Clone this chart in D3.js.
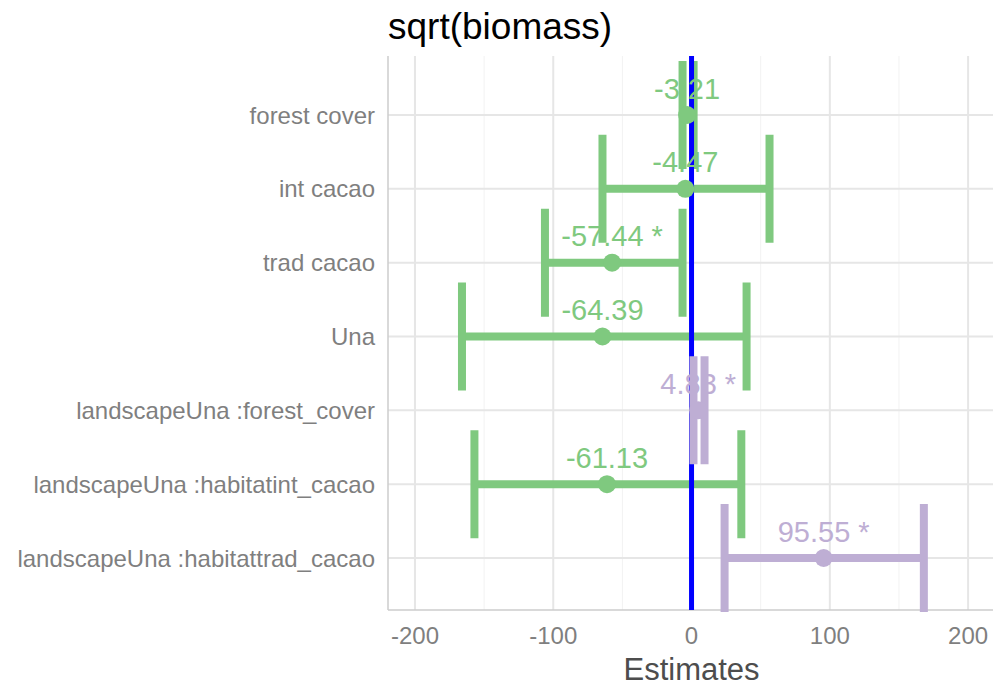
<!DOCTYPE html>
<html>
<head>
<meta charset="utf-8">
<script src="https://cdn.jsdelivr.net/npm/d3@7"></script>
<style>
  body { margin: 0; background: #fff; }
  text { font-family: "Liberation Sans", Arial, sans-serif; }
</style>
</head>
<body>
<script>
// terms from top to bottom
const terms = ["forest cover", "int cacao", "trad cacao", "Una",
  "landscapeUna :forest_cover", "landscapeUna :habitatint_cacao", "landscapeUna :habitattrad_cacao"];
const estimates = [-3.21, -4.47, -57.44, -64.39, 4.83, -61.13, 95.55];
const ciLow = [-6.5, -64.4, -106, -166, 1.4, -157, 23.9];
const ciHigh = [1.5, 56.4, -6.5, 39.8, 9.4, 36, 168];
const labels = ["-3.21", "-4.47", "-57.44 *", "-64.39", "4.83 *", "-61.13", "95.55 *"];
const positive = [false, false, false, false, true, false, true];
const xTicks = [-200, -100, 0, 100, 200];
const xMinor = [-150, -50, 50, 150];

const width = 993, height = 686;
const pLeft = 388, pRight = 993, pTop = 56, pBottom = 610;
const green = "#7fc97f", purple = "#beaed4";

const svg = d3.select("body").append("svg")
  .attr("width", width).attr("height", height);

const x = d3.scaleLinear().domain([-219.5, 218]).range([pLeft, pRight]);
const y = d3.scalePoint().domain(terms).range([115, 558]);

const data = terms.map((t, i) => ({
  term: t, est: estimates[i], lo: ciLow[i], hi: ciHigh[i], lab: labels[i],
  col: positive[i] ? purple : green
}));

// grid
svg.append("g").selectAll("line").data(xMinor).enter().append("line")
  .attr("x1", d => x(d)).attr("x2", d => x(d))
  .attr("y1", pTop).attr("y2", pBottom)
  .attr("stroke", "#f2f2f2").attr("stroke-width", 1);
svg.append("g").selectAll("line").data(xTicks).enter().append("line")
  .attr("x1", d => x(d)).attr("x2", d => x(d))
  .attr("y1", pTop).attr("y2", pBottom)
  .attr("stroke", "#e6e6e6").attr("stroke-width", 2);
svg.append("g").selectAll("line").data(terms).enter().append("line")
  .attr("x1", pLeft).attr("x2", pRight)
  .attr("y1", d => y(d)).attr("y2", d => y(d))
  .attr("stroke", "#e6e6e6").attr("stroke-width", 2);

// axis lines
svg.append("line").attr("x1", pLeft).attr("x2", pLeft).attr("y1", pTop).attr("y2", pBottom)
  .attr("stroke", "#cccccc").attr("stroke-width", 1.5);
svg.append("line").attr("x1", pLeft).attr("x2", pRight).attr("y1", pBottom).attr("y2", pBottom)
  .attr("stroke", "#cccccc").attr("stroke-width", 1.5);

const plot = svg.append("g");
const capH = 54;

function drawBars(sel) {
  const g = plot.append("g").selectAll("g").data(sel).enter().append("g");
  g.append("line")
    .attr("x1", d => x(d.lo)).attr("x2", d => x(d.hi))
    .attr("y1", d => y(d.term)).attr("y2", d => y(d.term))
    .attr("stroke", d => d.col).attr("stroke-width", 8);
  g.append("line")
    .attr("x1", d => x(d.lo)).attr("x2", d => x(d.lo))
    .attr("y1", d => Math.max(pTop, y(d.term) - capH)).attr("y2", d => y(d.term) + capH)
    .attr("stroke", d => d.col).attr("stroke-width", 8);
  g.append("line")
    .attr("x1", d => x(d.hi)).attr("x2", d => x(d.hi))
    .attr("y1", d => Math.max(pTop, y(d.term) - capH)).attr("y2", d => y(d.term) + capH)
    .attr("stroke", d => d.col).attr("stroke-width", 8);
}

drawBars(data.filter(d => d.col === green));

// zero line
plot.append("line")
  .attr("x1", x(0)).attr("x2", x(0)).attr("y1", pTop).attr("y2", pBottom)
  .attr("stroke", "#0000ff").attr("stroke-width", 5);

drawBars(data.filter(d => d.col === purple));

plot.append("g").selectAll("circle").data(data).enter().append("circle")
  .attr("cx", d => x(d.est)).attr("cy", d => y(d.term)).attr("r", 9)
  .attr("fill", d => d.col);

plot.append("g").selectAll("text").data(data).enter().append("text")
  .attr("x", d => x(d.est)).attr("y", d => y(d.term) - 16.5)
  .attr("text-anchor", "middle")
  .attr("font-size", 29)
  .attr("fill", d => d.col)
  .text(d => d.lab);

// y labels
svg.append("g").selectAll("text").data(terms).enter().append("text")
  .attr("x", 375).attr("y", d => y(d) + 8.5)
  .attr("text-anchor", "end")
  .attr("font-size", 24)
  .attr("fill", "#7f7f7f")
  .text(d => d);

// x tick labels
svg.append("g").selectAll("text").data(xTicks).enter().append("text")
  .attr("x", d => x(d)).attr("y", 644)
  .attr("text-anchor", "middle")
  .attr("font-size", 24)
  .attr("fill", "#7f7f7f")
  .text(d => d);

svg.append("text").attr("x", x(0)).attr("y", 680)
  .attr("text-anchor", "middle").attr("font-size", 31)
  .attr("fill", "#4d4d4d").text("Estimates");

svg.append("text").attr("x", 388).attr("y", 39)
  .attr("font-size", 37).attr("fill", "#000").text("sqrt(biomass)");
</script>
</body>
</html>
